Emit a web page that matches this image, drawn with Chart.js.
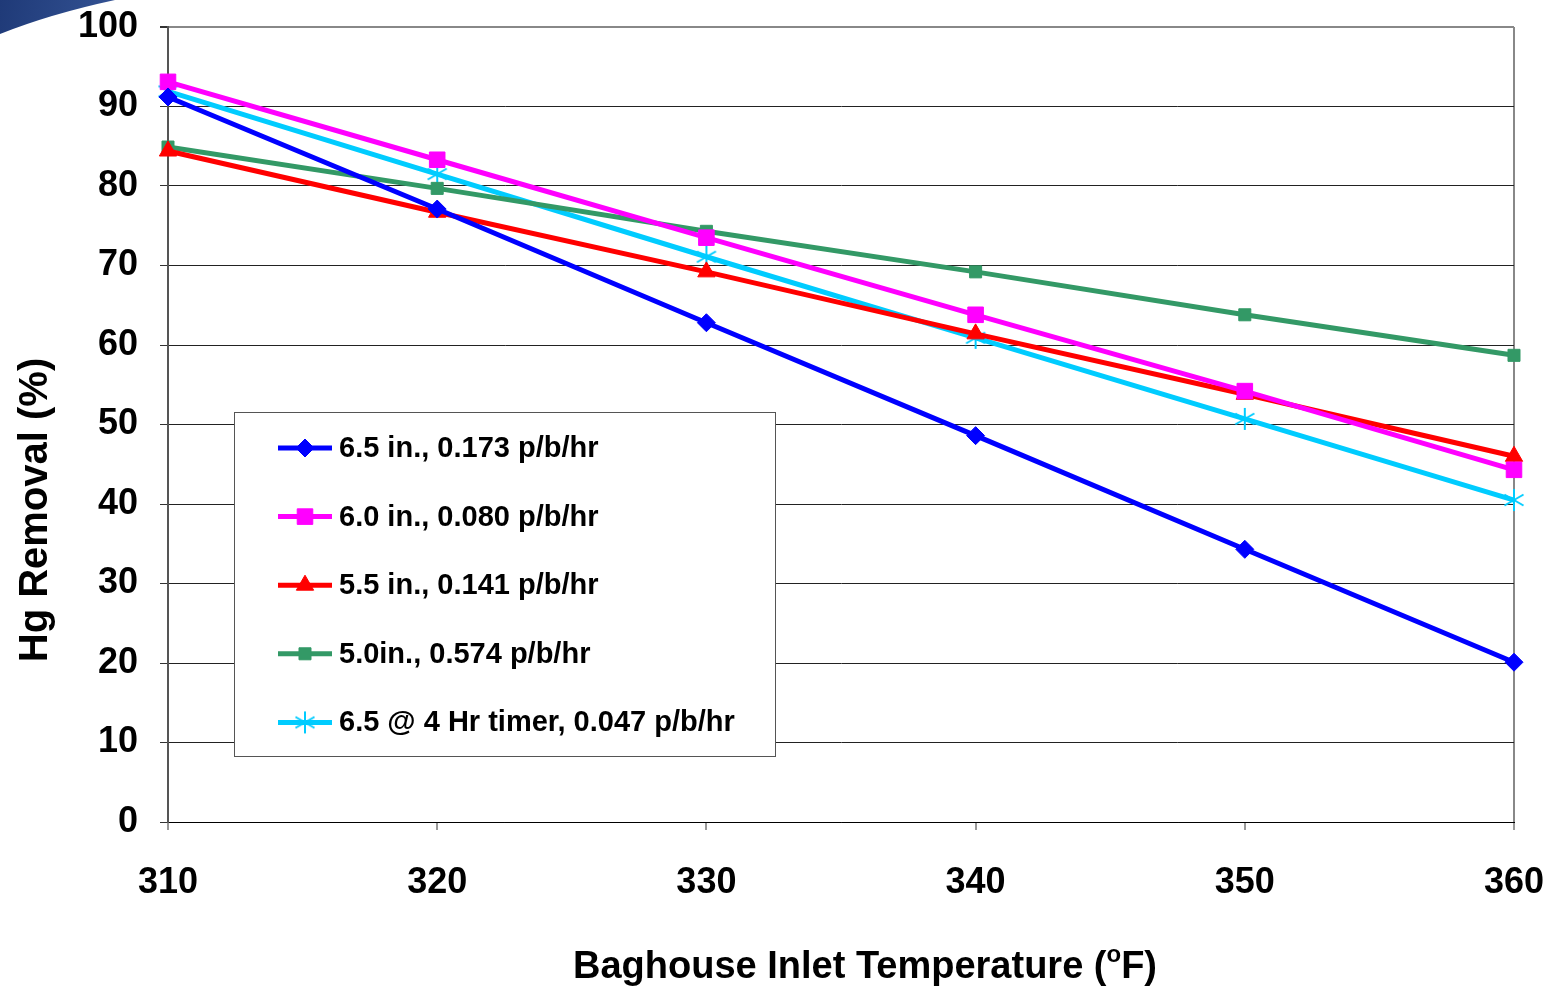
<!DOCTYPE html>
<html>
<head>
<meta charset="utf-8">
<script src="https://cdn.jsdelivr.net/npm/chart.js@4/dist/chart.umd.min.js"></script>
<style>
  html, body { margin: 0; padding: 0; background: #fff; }
  #wrap { width: 1549px; height: 986px; position: relative; }
</style>
</head>
<body>
<div id="wrap"><canvas id="hgChart" width="1549" height="986"></canvas></div>
<script>
// Hg removal vs baghouse inlet temperature
const temps = [310, 320, 330, 340, 350, 360];

const seriesNames = [
    '6.5 in., 0.173 p/b/hr',
    '6.0 in., 0.080 p/b/hr',
    '5.5 in., 0.141 p/b/hr',
    '5.0in., 0.574 p/b/hr',
    '6.5 @ 4 Hr timer, 0.047 p/b/hr'
];

const removal65 = [91.2, 77.1, 62.8, 48.6, 34.3, 20.1];
const removal60 = [93.1, 83.3, 73.5, 63.8, 54.2, 44.3];
const removal55 = [84.4, 76.7, 69.2, 61.4, 53.8, 46.0];
const removal50 = [84.9, 79.7, 74.3, 69.2, 63.8, 58.7];
const removal65timer = [91.9, 81.5, 71.1, 60.9, 50.7, 40.5];

const yTicks = [0, 10, 20, 30, 40, 50, 60, 70, 80, 90, 100];

const FONT = '"Liberation Sans", Arial, sans-serif';

// asterisk marker (6 arms) for the timer series
function makeAsterisk(color, r) {
    const c = document.createElement('canvas');
    c.width = c.height = r * 2 + 4;
    const g = c.getContext('2d');
    g.strokeStyle = color;
    g.lineWidth = 2;
    const cx = r + 2, cy = r + 2;
    for (let k = 0; k < 3; k++) {
        const a = Math.PI / 2 + k * Math.PI / 3;
        g.beginPath();
        g.moveTo(cx + Math.cos(a) * r, cy + Math.sin(a) * r);
        g.lineTo(cx - Math.cos(a) * r, cy - Math.sin(a) * r);
        g.stroke();
    }
    return c;
}

const toPoints = function (values) {
    let pts = [];
    for (var i = 0; i < temps.length; i++) {
        pts.push({x: temps[i], y: values[i]});
    }
    return pts
};

const seriesStyle = [
    {color: '#0000FF', style: 'rectRot', radius: 9},
    {color: '#FF00FF', style: 'rect', radius: 11},
    {color: '#FF0000', style: 'triangle', radius: 10},
    {color: '#339966', style: 'rect', radius: 8.5},
    {color: '#00CCFF', style: makeAsterisk('#00CCFF', 11), radius: 11}
];
const seriesValues = [removal65, removal60, removal55, removal50, removal65timer];

const datasets = seriesNames.map((name, i) => ({
    label: name,
    data: toPoints(seriesValues[i]),
    borderColor: seriesStyle[i].color,
    backgroundColor: seriesStyle[i].color,
    pointBackgroundColor: seriesStyle[i].color,
    pointBorderColor: seriesStyle[i].color,
    pointBorderWidth: 1,
    pointStyle: seriesStyle[i].style,
    pointRadius: seriesStyle[i].radius,
    borderWidth: 5,
    tension: 0,
    fill: false,
    clip: false
}));

// slide corner decoration + axis titles + boxed legend
const decorPlugin = {
    id: 'decor',
    beforeDraw(chart) {
        const ctx = chart.ctx;
        ctx.save();
        const grad = ctx.createLinearGradient(0, 0, 150, 30);
        grad.addColorStop(0, '#1F3A78');
        grad.addColorStop(1, '#3A5A9C');
        ctx.fillStyle = grad;
        ctx.beginPath();
        ctx.moveTo(0, 0);
        ctx.lineTo(115, 0);
        ctx.quadraticCurveTo(50, 14, 0, 34);
        ctx.closePath();
        ctx.fill();
        ctx.restore();
    },
    afterDraw(chart) {
        const ctx = chart.ctx;
        ctx.save();
        ctx.fillStyle = '#000';

        // x axis title with superscript o
        const p1 = 'Baghouse Inlet Temperature (';
        const p2 = 'o';
        const p3 = 'F)';
        ctx.font = 'bold 38px ' + FONT;
        const w1 = ctx.measureText(p1).width;
        const w3 = ctx.measureText(p3).width;
        ctx.font = 'bold 24px ' + FONT;
        const w2 = ctx.measureText(p2).width;
        let x = 865 - (w1 + w2 + w3) / 2;
        const base = 978;
        ctx.textBaseline = 'alphabetic';
        ctx.textAlign = 'left';
        ctx.font = 'bold 38px ' + FONT;
        ctx.fillText(p1, x, base);
        ctx.font = 'bold 24px ' + FONT;
        ctx.fillText(p2, x + w1, base - 16);
        ctx.font = 'bold 38px ' + FONT;
        ctx.fillText(p3, x + w1 + w2, base);

        // y axis title
        ctx.save();
        ctx.translate(47, 510);
        ctx.rotate(-Math.PI / 2);
        ctx.font = 'bold 40px ' + FONT;
        ctx.textAlign = 'center';
        ctx.fillText('Hg Removal (%)', 0, 0);
        ctx.restore();

        // legend box
        const bx = 234.5, by = 412.5, bw = 541, bh = 344;
        ctx.fillStyle = '#fff';
        ctx.fillRect(bx, by, bw, bh);
        ctx.strokeStyle = '#555';
        ctx.lineWidth = 1;
        ctx.strokeRect(bx, by, bw, bh);

        chart.data.datasets.forEach((ds, i) => {
            const cy = 448 + i * 68.6;
            ctx.strokeStyle = ds.borderColor;
            ctx.lineWidth = 5;
            ctx.beginPath();
            ctx.moveTo(278, cy);
            ctx.lineTo(332, cy);
            ctx.stroke();
            ctx.fillStyle = ds.backgroundColor;
            ctx.strokeStyle = ds.borderColor;
            ctx.lineWidth = 1;
            Chart.helpers.drawPoint(ctx, {
                pointStyle: ds.pointStyle,
                radius: ds.pointRadius,
                rotation: 0,
                borderWidth: 1
            }, 305, cy);
            ctx.fillStyle = '#000';
            ctx.font = 'bold 29px ' + FONT;
            ctx.textBaseline = 'middle';
            ctx.textAlign = 'left';
            ctx.fillText(ds.label, 339, cy + 1);
        });
        ctx.restore();
    }
};

new Chart(document.getElementById('hgChart'), {
    type: 'line',
    data: {datasets: datasets},
    options: {
        responsive: false,
        animation: false,
        events: [],
        layout: {padding: {top: 27, right: 35, left: 0, bottom: 0}},
        plugins: {
            legend: {display: false},
            tooltip: {enabled: false},
            title: {display: false}
        },
        scales: {
            x: {
                type: 'linear',
                min: 310,
                max: 360,
                afterFit: function (scale) {
                    scale.height = 164;
                    scale.paddingLeft = 0;
                    scale.paddingRight = 0;
                },
                afterBuildTicks: function (scale) {
                    scale.ticks = temps.map(v => ({value: v}));
                },
                ticks: {
                    color: '#000',
                    font: {family: FONT, size: 36, weight: 'bold'},
                    padding: 31,
                    maxRotation: 0
                },
                grid: {
                    color: ctx => (ctx.tick && ctx.tick.value === 360) ? '#888' : 'rgba(0,0,0,0)',
                    lineWidth: 2,
                    drawTicks: true,
                    tickLength: 8,
                    tickColor: '#333',
                    tickWidth: 1
                },
                border: {color: '#000', width: 1}
            },
            y: {
                min: 0,
                max: 100,
                afterFit: function (scale) {
                    scale.width = 168;
                    scale.paddingTop = 0;
                    scale.paddingBottom = 0;
                },
                afterBuildTicks: function (scale) {
                    scale.ticks = yTicks.map(v => ({value: v}));
                },
                ticks: {
                    color: '#000',
                    font: {family: FONT, size: 36, weight: 'bold'},
                    padding: 22
                },
                grid: {
                    color: ctx => (ctx.tick && ctx.tick.value === 100) ? '#888' : '#222',
                    lineWidth: ctx => (ctx.tick && ctx.tick.value === 100) ? 2 : 1,
                    drawTicks: true,
                    tickLength: 8,
                    tickColor: '#333'
                },
                border: {color: '#555', width: 2}
            }
        }
    },
    plugins: [decorPlugin]
});
</script>
</body>
</html>
